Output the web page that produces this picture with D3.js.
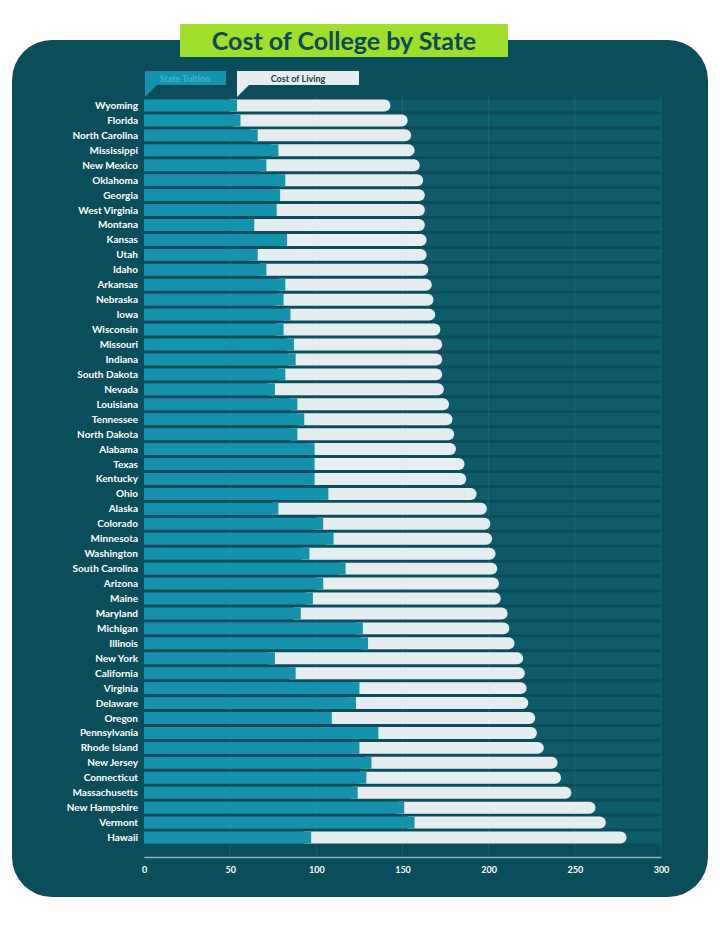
<!DOCTYPE html>
<html>
<head>
<meta charset="utf-8">
<script src="https://cdn.jsdelivr.net/npm/d3@7"></script>
<style>
  body { margin: 0; background: #fff; }
  svg { display: block; font-family: Lato, "Open Sans", sans-serif; }
</style>
</head>
<body>
<svg id="chart" width="720" height="925"></svg>
<script>
// States, top to bottom
const states = ["Wyoming", "Florida", "North Carolina", "Mississippi", "New Mexico", "Oklahoma", "Georgia",
  "West Virginia", "Montana", "Kansas", "Utah", "Idaho", "Arkansas", "Nebraska", "Iowa", "Wisconsin",
  "Missouri", "Indiana", "South Dakota", "Nevada", "Louisiana", "Tennessee", "North Dakota", "Alabama",
  "Texas", "Kentucky", "Ohio", "Alaska", "Colorado", "Minnesota", "Washington", "South Carolina", "Arizona",
  "Maine", "Maryland", "Michigan", "Illinois", "New York", "California", "Virginia", "Delaware", "Oregon",
  "Pennsylvania", "Rhode Island", "New Jersey", "Connecticut", "Massachusetts", "New Hampshire", "Vermont", "Hawaii"];

// state tuition (left part of each bar)
const tuition = [54, 56, 66, 78, 71, 82, 79, 77, 64, 83, 66, 71, 82, 81, 85, 81, 87, 88, 82, 76,
  89, 93, 89, 99, 99, 99, 107, 78, 104, 110, 96, 117, 104, 98, 91, 127, 130, 76, 88, 125,
  123, 109, 136, 125, 132, 129, 124, 151, 157, 97];

// total = tuition + cost of living (right end of each bar)
const total = [143, 153, 155, 157, 160, 162, 163, 163, 163, 164, 164, 165, 167, 168, 169, 172, 173, 173, 173, 174,
  177, 179, 180, 181, 186, 187, 193, 199, 201, 202, 204, 205, 206, 207, 211, 212, 215, 220, 221, 222,
  223, 227, 228, 232, 240, 242, 248, 262, 268, 280];

const xTicks = [0, 50, 100, 150, 200, 250, 300];

const svg = d3.select("#chart");

// dark panel
svg.append("rect")
  .attr("x", 12).attr("y", 40).attr("width", 696).attr("height", 857)
  .attr("rx", 40).attr("fill", "#0c4d5b");

// title
svg.append("rect").attr("x", 180).attr("y", 24).attr("width", 328).attr("height", 33).attr("fill", "#9fde2a");
svg.append("text").attr("x", 344).attr("y", 50).attr("text-anchor", "middle")
  .attr("font-size", 25).attr("font-weight", "bold").attr("fill", "#0d4a55")
  .text("Cost of College by State");

const x = d3.scaleLinear().domain([0, 300]).range([144, 661]);
const y = d3.scaleBand().domain(states).range([98, 845]).paddingInner(0.2).paddingOuter(0.1);

// row stripes
svg.append("g").selectAll("rect").data(states).join("rect")
  .attr("x", x(0)).attr("y", d => y(d)).attr("width", x(300) - x(0)).attr("height", y.bandwidth())
  .attr("fill", "#105b6b");

// gridlines
svg.append("g").selectAll("line").data(xTicks.slice(1)).join("line")
  .attr("x1", d => x(d)).attr("x2", d => x(d)).attr("y1", 96).attr("y2", 855)
  .attr("stroke", "#3b7d8a").attr("stroke-width", 0.6).attr("opacity", 0.6);

// cost of living bars (full length, rounded end), then tuition over them
const bh = y.bandwidth();
svg.append("g").selectAll("rect").data(states).join("rect")
  .attr("x", (d, i) => x(tuition[i]) - bh)
  .attr("y", d => y(d))
  .attr("width", (d, i) => x(total[i]) - x(tuition[i]) + bh)
  .attr("height", bh).attr("rx", bh / 2)
  .attr("fill", "#e6edf0");
svg.append("g").selectAll("rect").data(states).join("rect")
  .attr("x", x(0)).attr("y", d => y(d))
  .attr("width", (d, i) => x(tuition[i]) - x(0))
  .attr("height", bh).attr("fill", "#1593ad");

// state labels
svg.append("g").selectAll("text").data(states).join("text")
  .attr("x", 138).attr("y", d => y(d) + bh / 2 + 3.5)
  .attr("text-anchor", "end").attr("font-size", 10).attr("font-weight", "bold").attr("fill", "#fff")
  .text(d => d);

// x axis
const axis = svg.append("g").attr("transform", "translate(0,857)")
  .call(d3.axisBottom(x).tickValues(xTicks).tickSize(0).tickPadding(10));
axis.select(".domain").attr("stroke", "#8fb3bb").attr("stroke-width", 1.5);
axis.selectAll("text").attr("fill", "#fff").attr("font-size", 9).attr("font-weight", "bold")
  .attr("font-family", "Lato, sans-serif");

// legend
const leg = svg.append("g");
leg.append("rect").attr("x", 145).attr("y", 71).attr("width", 81).attr("height", 14).attr("fill", "#1593ad");
leg.append("path").attr("d", "M145,85 L145,97 L157,85 Z").attr("fill", "#1593ad");
leg.append("text").attr("x", 185).attr("y", 81.5).attr("text-anchor", "middle")
  .attr("font-size", 9).attr("font-weight", "bold").attr("fill", "#3fb3cc").text("State Tuition");
leg.append("rect").attr("x", 237).attr("y", 71).attr("width", 122).attr("height", 14).attr("fill", "#e6edf0");
leg.append("path").attr("d", "M237,85 L237,97 L249,85 Z").attr("fill", "#e6edf0");
leg.append("text").attr("x", 298).attr("y", 81.5).attr("text-anchor", "middle")
  .attr("font-size", 9).attr("font-weight", "bold").attr("fill", "#1c3f47").text("Cost of Living");
</script>
</body>
</html>
